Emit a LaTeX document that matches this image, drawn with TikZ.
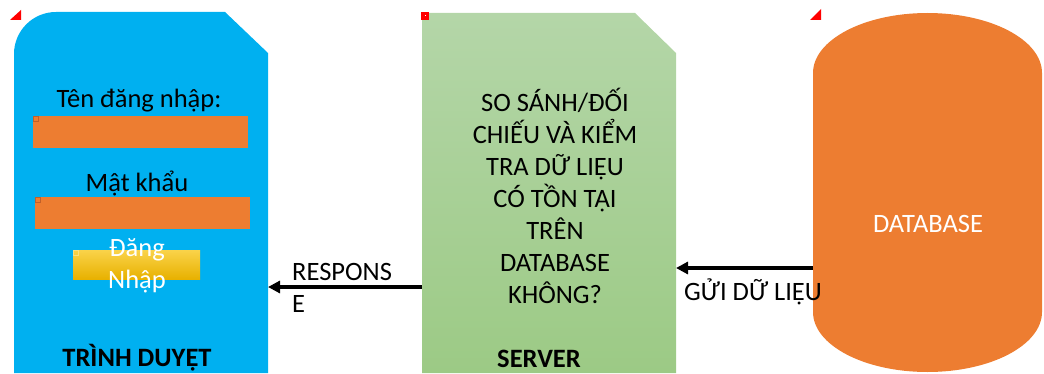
\documentclass[tikz,border=0pt]{standalone}
\usepackage{fontspec}
\setmainfont{Carlito}
\usetikzlibrary{arrows.meta}
\definecolor{pageblue}{HTML}{00B0F0}
\definecolor{dborange}{HTML}{ED7D31}
\definecolor{boxedge}{HTML}{C0602A}
\definecolor{srvtop}{HTML}{B4D6A8}
\definecolor{srvbot}{HTML}{9CCA85}
\definecolor{btntop}{HTML}{FAD34A}
\definecolor{btnbot}{HTML}{E8B100}
\definecolor{cornerred}{HTML}{FF0000}
\tikzset{
  txt/.style={inner sep=0pt, font=\fontsize{26.5}{32}\selectfont, align=center},
  boldtxt/.style={txt, font=\fontsize{26.5}{32}\selectfont\bfseries},
  field/.style={fill=dborange, draw=none},
  handle/.style={draw=boxedge, line width=0.8pt, fill=none},
  flow/.style={line width=3.6pt, -{Triangle[length=12pt,width=12pt]}},
}
\begin{document}
\begin{tikzpicture}[x=1pt,y=1pt]
\useasboundingbox (0,0) rectangle (1044,373);

% browser window
\fill[pageblue] (14,0) -- (14,319) arc (180:90:42) -- (225,361) -- (268,320) -- (268,0) -- cycle;
\fill[cornerred] (21,363) -- (21,353) -- (10,353) -- cycle;

\node[txt] (userlbl) at (139,272) {Tên đăng nhập:};
\fill[field] (33,225) rectangle (248,257);
\draw[handle] (33.5,251.5) rectangle (38.5,256.5);
\node[txt] (passlbl) at (137,190) {Mật khẩu};
\fill[field] (35,144) rectangle (250,176);
\draw[handle] (35.5,170.5) rectangle (40.5,175.5);
\shade[top color=btntop, bottom color=btnbot] (73,94) rectangle (200,123);
\draw[draw=btntop!70!white, line width=0.8pt] (73.5,117.5) rectangle (78.5,122.5);
\node[txt, text=white] (login) at (137,107) {Đăng\\Nhập};
\node[boldtxt] (browser) at (137,15) {TRÌNH DUYỆT};
\coordinate (browserR) at (268,86);

% server document
\shade[top color=srvtop, bottom color=srvbot] (422,0) -- (422,360) -- (635,360) -- (676,320) -- (676,0) -- cycle;
\fill[cornerred] (421,353) rectangle (429,361);
\fill[white] (424.5,356.5) rectangle (425.5,357.5);
\node[txt] (check) at (555,177) {SO SÁNH/ĐỐI\\CHIẾU VÀ KIỂM\\TRA DỮ LIỆU\\CÓ TỒN TẠI\\TRÊN\\DATABASE\\KHÔNG?};
\node[boldtxt] (server) at (539,14.5) {SERVER};
\coordinate (serverL) at (422,86);
\coordinate (serverR) at (676,105);

% database cylinder
\fill[dborange] (813,61) -- (813,300) arc (180:0:114.5 and 60) -- (1042,61) arc (0:-180:114.5 and 60) -- cycle;
\fill[cornerred] (821,364) -- (821,353) -- (810,353) -- cycle;
\node[txt, text=white] (db) at (928,149) {DATABASE};
\coordinate (dbL) at (813,105);

% connectors
\draw[flow] (serverL) -- (browserR);
\node[txt, anchor=west, align=left] (resp) at (292,85) {RESPONS\\E};
\draw[flow] (dbL) -- (serverR);
\node[txt, anchor=west] (send) at (684,81) {GỬI DỮ LIỆU};
\end{tikzpicture}
\end{document}
